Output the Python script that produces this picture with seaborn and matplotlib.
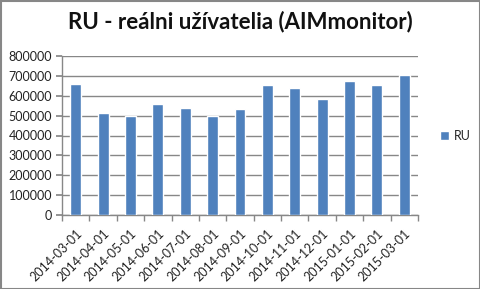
import matplotlib
matplotlib.use("Agg")
import matplotlib.pyplot as plt
import seaborn as sns
import pandas as pd
import numpy as np
from matplotlib.patches import Rectangle

dates = ["2014-03-01", "2014-04-01", "2014-05-01", "2014-06-01", "2014-07-01",
         "2014-08-01", "2014-09-01", "2014-10-01", "2014-11-01", "2014-12-01",
         "2015-01-01", "2015-02-01", "2015-03-01"]
ru = [659000, 514000, 498000, 558000, 538000, 498000, 533000, 654000,
      639000, 584000, 674000, 654000, 704000]
yticks = [0, 100000, 200000, 300000, 400000, 500000, 600000, 700000, 800000]

df = pd.DataFrame({"date": dates, "RU": ru})

sns.set_theme(style="white")
plt.rcParams['font.family'] = ['Lato', 'DejaVu Sans']

fig = plt.figure(figsize=(4.81, 2.89), dpi=100)
ax = fig.add_axes([62/481, 1-215/289, (418-62)/481, (215-56)/289])

sns.barplot(data=df, x="date", y="RU", color="#4F81BD", saturation=1,
            width=0.4, ax=ax, label="RU", zorder=3)

ax.set_ylim(0, 800000)
ax.set_xlim(-0.5, len(dates)-0.5)
ax.set_yticks(yticks)
ax.set_yticklabels([str(v) for v in yticks], fontsize=9, color="#222222")
ax.set_xticks(range(len(dates)))
ax.set_xticklabels(dates, rotation=45, ha="right", rotation_mode="anchor",
                   fontsize=9, color="#222222")
ax.set_xlabel("")
ax.set_ylabel("")
ax.yaxis.grid(True, color="#878787", linewidth=1, zorder=0)
ax.set_axisbelow(True)
for s in ["top", "right"]:
    ax.spines[s].set_visible(False)
for s in ["left", "bottom"]:
    ax.spines[s].set_visible(True)
    ax.spines[s].set_color("#878787")
    ax.spines[s].set_linewidth(1)

ax.tick_params(axis="y", which="both", left=True, length=4, color="#878787", pad=3)
ax.tick_params(axis="x", which="major", bottom=False, pad=3)
ax.set_xticks(np.arange(-0.5, len(dates)), minor=True)
ax.tick_params(axis="x", which="minor", bottom=True, length=4, color="#878787")

leg = ax.legend(loc="center left", bbox_to_anchor=(1.03, 0.5), frameon=False,
                fontsize=9, handlelength=0.7, handleheight=0.7, handletextpad=0.4)

fig.text(240/481, 1-22/289, "RU - reálni užívatelia (AIMmonitor)", ha="center",
         va="center", fontsize=16, fontweight="bold", color="#111111")

fig.patches.append(Rectangle((0.5/481, 0.5/289), 1-1/481, 1-1/289,
                             transform=fig.transFigure, fill=False,
                             edgecolor="#878787", linewidth=1.5))

fig.savefig("out.png", dpi=100)
